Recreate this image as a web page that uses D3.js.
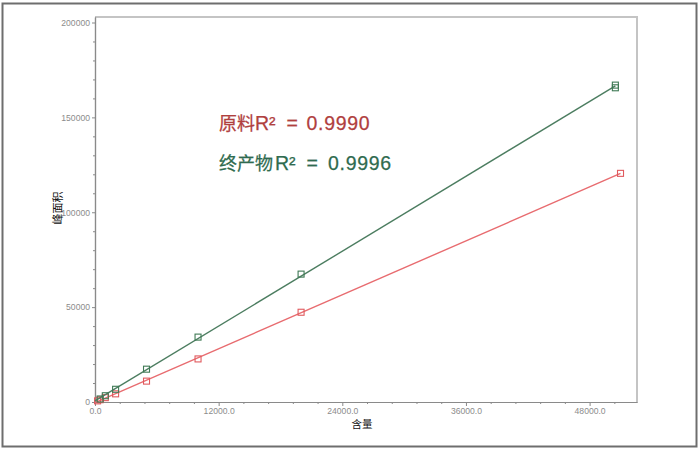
<!DOCTYPE html>
<html><head><meta charset="utf-8">
<script src="https://cdn.jsdelivr.net/npm/d3@7"></script>
<style>body{margin:0;background:#fff}svg{display:block}</style>
</head><body>
<svg id="c" width="700" height="452"></svg>
<script>
// Data
const rawX   = [250, 500, 1000, 2000, 5000, 10000, 20000, 51000];
const rawY   = [600, 1200, 2300, 4300, 11000, 22700, 47300, 120500];
const finalX = [500, 1000, 2000, 5000, 10000, 20000, 50500, 50500];
const finalY = [1600, 3300, 6700, 17300, 34200, 67400, 165600, 167000];
const xMajorTicks = [0, 12000, 24000, 36000, 48000];
const yMajorTicks = [0, 50000, 100000, 150000, 200000];
const seriesNames = ["原料", "终产物"];
const r2Values = ["0.9990", "0.9996"];
const xTitle = "含量", yTitle = "峰面积";

const svg = d3.select("#c");
const L = 95, R = 637, T = 17, B = 402;
const x = d3.scaleLinear().domain([0, 52600]).range([L, R]);
const y = d3.scaleLinear().domain([0, 202900]).range([B, T]);

// outer frame
svg.append("rect").attr("x", 2.5).attr("y", 3.5).attr("width", 694).attr("height", 443)
  .attr("fill", "#fff").attr("stroke", "#6e6e6e").attr("stroke-width", 2);

// plot frame top/right
svg.append("path").attr("d", `M${L},${T}H${R}V${B}`).attr("fill", "none")
  .attr("stroke", "#c4c4c4").attr("stroke-width", 2);

const tickFont = "'Liberation Sans', Arial, sans-serif";
const xMinor = d3.range(0, 52600, 2400).filter(v => !xMajorTicks.includes(v));
const yMinor = d3.range(0, 202900, 10000).filter(v => !yMajorTicks.includes(v));

const gx = svg.append("g").attr("transform", `translate(0,${B})`)
  .call(d3.axisBottom(x).tickValues(xMajorTicks).tickFormat(d3.format(".1f")).tickSize(4).tickPadding(2).tickSizeOuter(0));
const gxm = svg.append("g").attr("transform", `translate(0,${B})`)
  .call(d3.axisBottom(x).tickValues(xMinor).tickFormat("").tickSize(2).tickSizeOuter(0));
const gy = svg.append("g").attr("transform", `translate(${L},0)`)
  .call(d3.axisLeft(y).tickValues(yMajorTicks).tickFormat(d3.format("d")).tickSize(3).tickSizeOuter(0));
const gym = svg.append("g").attr("transform", `translate(${L},0)`)
  .call(d3.axisLeft(y).tickValues(yMinor).tickFormat("").tickSize(2).tickSizeOuter(0));
[gx, gxm, gy, gym].forEach(g => {
  g.select(".domain").attr("stroke", "#8a8a8a").attr("stroke-width", 1.2);
  g.selectAll(".tick line").attr("stroke", "#8a8a8a");
  g.selectAll("text").attr("fill", "#8c8c8c").attr("font-family", tickFont).attr("font-size", 8.6);
});
gy.selectAll("text").attr("dx", "1");

// axis titles
svg.append("text").attr("x", 362).attr("y", 428).attr("text-anchor", "middle")
  .attr("font-family", "'Noto Sans CJK SC', sans-serif").attr("font-size", 10.5).attr("fill", "#111").text(xTitle);
svg.append("text").attr("transform", "translate(61.5,208) rotate(-90)").attr("text-anchor", "middle")
  .attr("font-family", "'Noto Sans CJK SC', sans-serif").attr("font-size", 11).attr("fill", "#111").text(yTitle);

// regression lines and points
function fit(xs, ys) {
  const mx = d3.mean(xs), my = d3.mean(ys);
  const sxy = d3.sum(xs, (v, i) => (v - mx) * (ys[i] - my));
  const sxx = d3.sum(xs, v => (v - mx) * (v - mx));
  const b = sxy / sxx; return {b, a: my - b * mx};
}
const series = [
  {xs: rawX, ys: rawY, line: "#e86c70", pt: "#e05a5e"},
  {xs: finalX, ys: finalY, line: "#4c7d60", pt: "#3f7a55"}
];
series.forEach(s => {
  const f = fit(s.xs, s.ys);
  const x0 = 0, x1 = d3.max(s.xs);
  svg.append("line").attr("x1", x(x0)).attr("y1", y(f.a + f.b * x0))
    .attr("x2", x(x1)).attr("y2", y(f.a + f.b * x1))
    .attr("stroke", s.line).attr("stroke-width", 1.4);
  svg.append("g").selectAll("rect").data(s.xs.map((v, i) => [v, s.ys[i]])).join("rect")
    .attr("x", d => x(d[0]) - 3).attr("y", d => y(d[1]) - 3).attr("width", 6).attr("height", 6)
    .attr("fill", "none").attr("stroke", s.pt).attr("stroke-width", 1.1);
});

// R² annotations
const latin = "'Liberation Sans', Arial, sans-serif";
const cjk = "'Noto Sans CJK SC', sans-serif";
const ann = [
  {name: seriesNames[0], val: r2Values[0], color: "#b0403e", y: 129.5, xR: 255, xEq: 286.5, xV: 306.5},
  {name: seriesNames[1], val: r2Values[1], color: "#2f6b4f", y: 169.5, xR: 275, xEq: 306.5, xV: 328}
];
ann.forEach(a => {
  const t = svg.append("text").attr("y", a.y).attr("fill", a.color)
    .attr("stroke", a.color).attr("stroke-width", 0.25);
  t.append("tspan").attr("x", 219).attr("font-family", cjk).attr("font-size", 18).text(a.name);
  t.append("tspan").attr("x", a.xR).attr("font-family", latin).attr("font-size", 19.5).text("R²");
  t.append("tspan").attr("x", a.xEq).attr("font-family", latin).attr("font-size", 19.5).text("=");
  t.append("tspan").attr("x", a.xV).attr("font-family", latin).attr("font-size", 19.5)
    .attr("letter-spacing", 0.7).text(a.val);
});
</script>
</body></html>
